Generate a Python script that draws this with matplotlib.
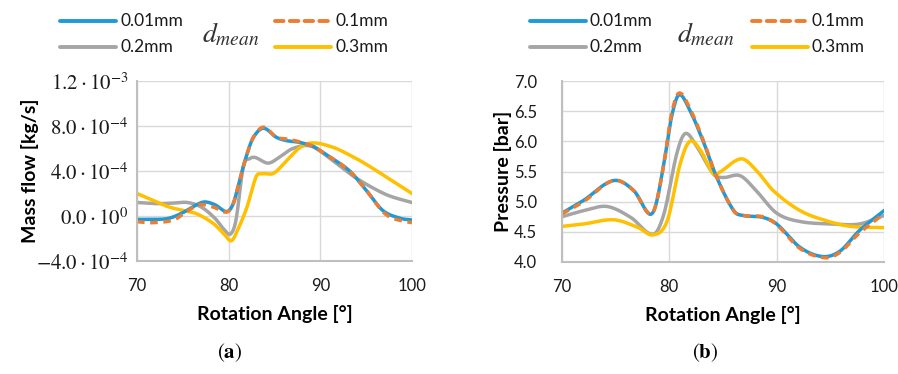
import numpy as np
import matplotlib.pyplot as plt
from matplotlib.lines import Line2D

plt.rcParams['font.family'] = ['Lato', 'DejaVu Sans']
plt.rcParams['mathtext.fontset'] = 'stix'

# --- mass flow [1e-4 kg/s] vs rotation angle ---
mf_x_001 = [70, 72, 73.5, 75, 76.5, 77.4, 78.5, 79.8, 80.5, 81.2, 82, 82.7, 83.8, 85.2, 86.3, 87.7, 89.2, 90, 91.5, 93.2, 95, 96.8, 98.7, 100]
mf_y_001 = [-0.3, -0.3, -0.2, 0.3, 1.0, 1.25, 1.0, 0.4, 1.1, 3.2, 5.5, 7.0, 7.8, 7.0, 6.7, 6.55, 6.2, 5.8, 5.0, 4.0, 2.3, 0.5, -0.2, -0.35]
mf_x_01 = [70, 71.5, 74, 75.4, 76.8, 78.3, 79.8, 80.5, 81.2, 82, 82.7, 83.8, 85.2, 86.3, 87.7, 89.2, 90, 91.5, 93.2, 95, 96.8, 97.9, 100]
mf_y_01 = [-0.5, -0.6, -0.35, 0.4, 1.0, 0.8, 0.35, 1.1, 3.2, 5.5, 7.0, 7.9, 7.0, 6.85, 6.6, 6.2, 5.8, 5.0, 4.0, 2.3, 0.4, -0.2, -0.6]
mf_x_02 = [70, 72, 74, 75.5, 77, 78.5, 79.5, 80.2, 80.8, 81.6, 82.3, 82.9, 84.3, 85.5, 87, 89, 91.4, 93.5, 95.5, 97.5, 100]
mf_y_02 = [1.2, 1.1, 1.15, 1.2, 0.8, -0.2, -1.2, -1.6, -0.35, 4.4, 5.1, 5.2, 4.7, 5.2, 6.0, 6.2, 4.9, 3.6, 2.6, 1.8, 1.2]
mf_x_03 = [70, 72, 73.5, 75, 76.5, 78.3, 79.5, 80.3, 81, 82, 83, 83.6, 84.9, 86.3, 87.8, 89.2, 91.4, 93, 95, 97.5, 100]
mf_y_03 = [2.0, 1.3, 0.8, 0.5, 0.2, -0.65, -1.6, -2.2, -1.2, 0.8, 3.5, 3.75, 3.8, 4.9, 6.1, 6.5, 6.1, 5.5, 4.6, 3.3, 2.0]

# --- pressure [bar] vs rotation angle ---
p_x_001 = [70, 72, 74.8, 76.7, 78.1, 78.7, 79.5, 80.2, 80.9, 81.9, 83.2, 84.4, 86, 86.9, 88.7, 90, 92.2, 94.3, 95.9, 97.7, 100]
p_y_001 = [4.81, 5.02, 5.35, 5.18, 4.8, 4.92, 5.64, 6.4, 6.77, 6.52, 5.98, 5.41, 4.85, 4.77, 4.74, 4.63, 4.24, 4.09, 4.18, 4.52, 4.85]
p_x_01 = [70, 72, 74.8, 76.7, 78.1, 78.7, 79.5, 80.2, 80.9, 81.9, 83.2, 84.4, 86, 86.9, 88.7, 90, 92.2, 94.5, 95.9, 97.7, 100]
p_y_01 = [4.8, 5.0, 5.35, 5.18, 4.8, 4.92, 5.64, 6.45, 6.8, 6.55, 6.0, 5.41, 4.85, 4.77, 4.75, 4.62, 4.22, 4.07, 4.16, 4.48, 4.8]
p_x_02 = [70, 72, 74.2, 76.4, 78.5, 79.5, 80.7, 81.5, 82.6, 84.1, 85, 86.6, 88.1, 90, 92.2, 95.3, 97.7, 100]
p_y_02 = [4.75, 4.85, 4.92, 4.74, 4.46, 4.8, 5.8, 6.13, 5.9, 5.46, 5.4, 5.43, 5.18, 4.81, 4.67, 4.63, 4.63, 4.77]
p_x_03 = [70, 72, 74.8, 77, 78.5, 79.8, 81, 81.9, 82.9, 84.1, 84.7, 86.7, 88.1, 89.7, 92.2, 94.7, 96.9, 100]
p_y_03 = [4.59, 4.63, 4.70, 4.58, 4.45, 4.68, 5.62, 6.0, 5.85, 5.46, 5.49, 5.71, 5.52, 5.18, 4.85, 4.68, 4.59, 4.57]

labels = ['0.01mm', '0.1mm', '0.2mm', '0.3mm']
colors = ['#1f9ad6', '#ed7d31', '#a5a5a5', '#ffc000']
styles = ['-', (0, (2.2, 1.6)), '-', '-']

mf_ticks = [-4e-4, 0, 4e-4, 8e-4, 1.2e-3]
mf_ticklabels = [r'$-4.0\cdot10^{-4}$', r'$0.0\cdot10^{0}$', r'$4.0\cdot10^{-4}$',
                 r'$8.0\cdot10^{-4}$', r'$1.2\cdot10^{-3}$']
p_ticks = [4.0, 4.5, 5.0, 5.5, 6.0, 6.5, 7.0]
x_ticks = [70, 80, 90, 100]

W, H = 898, 374


def smooth(x, y, n=20):
    # cubic hermite through the points (excel-style smoothed line)
    x = np.asarray(x, float)
    y = np.asarray(y, float)
    m = np.zeros_like(y)
    m[1:-1] = (y[2:] - y[:-2]) / (x[2:] - x[:-2])
    m[0] = (y[1] - y[0]) / (x[1] - x[0])
    m[-1] = (y[-1] - y[-2]) / (x[-1] - x[-2])
    xs, ys = [], []
    for i in range(len(x) - 1):
        h = x[i + 1] - x[i]
        t = np.linspace(0, 1, n, endpoint=False)
        h00 = 2 * t**3 - 3 * t**2 + 1
        h10 = t**3 - 2 * t**2 + t
        h01 = -2 * t**3 + 3 * t**2
        h11 = t**3 - t**2
        xs.append(x[i] + t * h)
        ys.append(h00 * y[i] + h10 * h * m[i] + h01 * y[i + 1] + h11 * h * m[i + 1])
    xs.append([x[-1]])
    ys.append([y[-1]])
    return np.concatenate(xs), np.concatenate(ys)


def px(x, y):
    return x / W, 1 - y / H


fig = plt.figure(figsize=(W / 100, H / 100), dpi=100)
ax1 = fig.add_axes([137 / W, 1 - 261 / H, 275 / W, 180 / H])
ax2 = fig.add_axes([562 / W, 1 - 262 / H, 322 / W, 181 / H])

mf_series = [(mf_x_001, mf_y_001), (mf_x_01, mf_y_01), (mf_x_02, mf_y_02), (mf_x_03, mf_y_03)]
p_series = [(p_x_001, p_y_001), (p_x_01, p_y_01), (p_x_02, p_y_02), (p_x_03, p_y_03)]

# draw order: gray, yellow, blue, orange dashed on top
order = [2, 3, 0, 1]
for i in order:
    sx, sy = smooth(mf_series[i][0], np.asarray(mf_series[i][1]) * 1e-4)
    ax1.plot(sx, sy, color=colors[i], lw=2.5, ls=styles[i])
    sx, sy = smooth(*p_series[i])
    ax2.plot(sx, sy, color=colors[i], lw=2.5, ls=styles[i])

for ax in (ax1, ax2):
    ax.set_xlim(70, 100)
    ax.set_xticks(x_ticks)
    ax.grid(True, color='#d9d9d9', lw=1)
    ax.set_axisbelow(True)
    for s in ('top', 'right'):
        ax.spines[s].set_visible(False)
    for s in ('left', 'bottom'):
        ax.spines[s].set_color('#bfbfbf')
        ax.spines[s].set_linewidth(1.5)
    ax.tick_params(length=0, labelsize=12, colors='#1a1a1a')
    ax.tick_params(axis='x', pad=12)
    ax.set_xlabel('Rotation Angle [°]', fontsize=14, fontweight='bold', labelpad=8)

ax1.set_ylim(-4e-4, 1.2e-3)
ax1.set_yticks(mf_ticks)
ax1.set_yticklabels(mf_ticklabels, fontsize=15)
ax1.tick_params(axis='y', pad=6)
ax1.set_ylabel('Mass flow [kg/s]', fontsize=14, fontweight='bold', labelpad=-2)

ax2.set_ylim(4.0, 7.0)
ax2.set_yticks(p_ticks)
ax2.set_yticklabels([f'{v:.1f}' for v in p_ticks])
ax2.tick_params(axis='y', pad=18)
ax2.set_ylabel('Pressure [bar]', fontsize=14, fontweight='bold', labelpad=1)

# legends: two columns of keys with the d_mean caption between them
for x0, xd, x1 in ((60, 231, 275), (530, 706, 752)):
    keys = [(x0, 21, 0), (x0, 47, 2), (x1, 21, 1), (x1, 47, 3)]
    for kx, ky, i in keys:
        (a, b), (c, _) = px(kx, ky), px(kx + 56, ky)
        fig.add_artist(Line2D([a, c], [b, b], color=colors[i], lw=2.8, ls=styles[i],
                              solid_capstyle='round', dash_capstyle='round'))
        tx, ty = px(kx + 60, ky)
        fig.text(tx, ty, labels[i], fontsize=12.5, ha='left', va='center', color='#1a1a1a')
    tx, ty = px(xd, 34)
    fig.text(tx, ty, r'$d_{mean}$', fontsize=20, ha='center', va='center', color='#333333')

for x, lab in ((230, 'a'), (705, 'b')):
    tx, ty = px(x, 353)
    fig.text(tx, ty, r'$(\mathbf{%s})$' % lab, fontsize=15, ha='center', va='center')

fig.savefig('out.png', dpi=100)
